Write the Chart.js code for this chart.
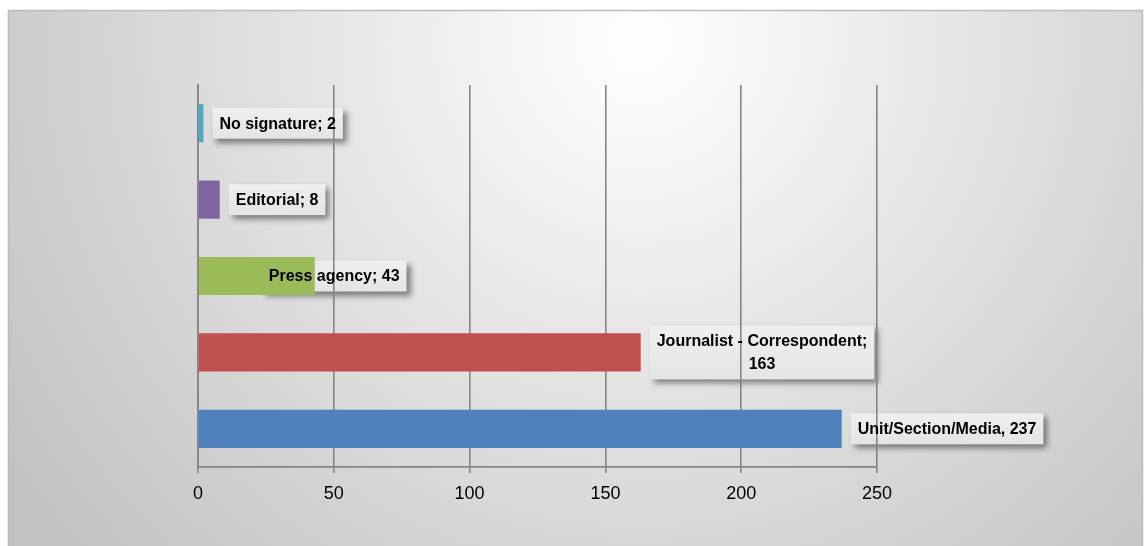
<!DOCTYPE html>
<html>
<head>
<meta charset="utf-8">
<script src="https://cdn.jsdelivr.net/npm/chart.js@4.4.0/dist/chart.umd.min.js"></script>
<style>
  html, body { margin: 0; padding: 0; background: #fff; }
  #wrap { width: 1145px; height: 546px; }
</style>
</head>
<body>
<div id="wrap"><canvas id="authorChart" width="1145" height="546"></canvas></div>
<script>
// article authorship, top to bottom
const categories = ['No signature', 'Editorial', 'Press agency', 'Journalist - Correspondent', 'Unit/Section/Media'];
const articleCounts = [2, 8, 43, 163, 237];
const labelSeparators = [';', ';', ';', ';', ','];
const barColors = ['#4bacc6', '#8064a2', '#9bbb59', '#c0504d', '#4f81bd'];
const xTicks = [0, 50, 100, 150, 200, 250];

const LABEL_FONT = 'bold 16px "Liberation Sans", Arial, sans-serif';
const LINE_H = 23;
const MAX_LABEL_W = 235;
const labelShift = { 2: -62 }; // press agency label sits back over its bar

function wrapLabel(ctx, text) {
  const words = text.split(' ');
  const lines = [];
  let cur = '';
  words.forEach(w => {
    const test = cur ? cur + ' ' + w : w;
    if (ctx.measureText(test).width > MAX_LABEL_W && cur) {
      lines.push(cur);
      cur = w;
    } else {
      cur = test;
    }
  });
  lines.push(cur);
  return lines;
}

function labelBoxes(chart) {
  const ctx = chart.ctx;
  const meta = chart.getDatasetMeta(0);
  ctx.save();
  ctx.font = LABEL_FONT;
  const boxes = meta.data.map((bar, i) => {
    const text = categories[i] + labelSeparators[i] + ' ' + articleCounts[i];
    const lines = wrapLabel(ctx, text);
    const w = Math.max(...lines.map(l => ctx.measureText(l).width)) + 14;
    const h = lines.length * LINE_H + 8;
    return { x: bar.x + 9 + (labelShift[i] || 0), y: bar.y - h / 2, w, h, lines };
  });
  ctx.restore();
  return boxes;
}

// frame background + label boxes (under the grid)
const backdrop = {
  id: 'backdrop',
  beforeDraw(chart) {
    const { ctx, width, height } = chart;
    ctx.save();
    ctx.fillStyle = '#ffffff';
    ctx.fillRect(0, 0, width, height);
    const g = ctx.createRadialGradient(640, 40, 0, 640, 40, 760);
    g.addColorStop(0, '#ffffff');
    g.addColorStop(1, '#c2c2c2');
    ctx.fillStyle = g;
    ctx.fillRect(8, 10, width - 10, height - 10);
    ctx.strokeStyle = '#bdbdbd';
    ctx.lineWidth = 1.5;
    ctx.strokeRect(8.5, 10.5, width - 11, height);

    labelBoxes(chart).forEach(b => {
      ctx.save();
      ctx.shadowColor = 'rgba(0,0,0,0.45)';
      ctx.shadowBlur = 6;
      ctx.shadowOffsetX = 4;
      ctx.shadowOffsetY = 4;
      const bg = ctx.createLinearGradient(0, b.y, 0, b.y + b.h);
      bg.addColorStop(0, '#efefef');
      bg.addColorStop(1, '#e4e4e4');
      ctx.fillStyle = bg;
      ctx.fillRect(b.x, b.y, b.w, b.h);
      ctx.restore();
    });
    ctx.restore();
  }
};

// label text on top of the bars
const labelText = {
  id: 'labelText',
  afterDatasetsDraw(chart) {
    const ctx = chart.ctx;
    ctx.save();
    ctx.font = LABEL_FONT;
    ctx.fillStyle = '#000';
    ctx.textAlign = 'center';
    ctx.textBaseline = 'middle';
    labelBoxes(chart).forEach(b => {
      b.lines.forEach((line, k) => {
        ctx.fillText(line, b.x + b.w / 2, b.y + 4 + LINE_H * (k + 0.5) + 1);
      });
    });
    ctx.restore();
  }
};

new Chart(document.getElementById('authorChart'), {
  type: 'bar',
  data: {
    labels: categories,
    datasets: [{
      data: articleCounts,
      backgroundColor: barColors,
      borderWidth: 0,
      barPercentage: 0.5,
      categoryPercentage: 1
    }]
  },
  options: {
    indexAxis: 'y',
    responsive: false,
    animation: false,
    layout: { padding: { left: 198, right: 268, top: 85, bottom: 0 } },
    plugins: {
      legend: { display: false },
      tooltip: { enabled: false }
    },
    scales: {
      x: {
        min: xTicks[0],
        max: xTicks[xTicks.length - 1],
        ticks: {
          stepSize: xTicks[1] - xTicks[0],
          color: '#000',
          padding: 10,
          font: { family: '"Liberation Sans", Arial, sans-serif', size: 18 }
        },
        grid: { color: '#858585', lineWidth: 1.6, tickLength: 6 },
        border: { color: '#858585', width: 1.8 },
        afterFit(s) { s.height = 79; }
      },
      y: {
        ticks: { display: false },
        grid: { display: false },
        border: { color: '#858585', width: 1.8 },
        afterFit(s) { s.width = 0; }
      }
    }
  },
  plugins: [backdrop, labelText]
});
</script>
</body>
</html>
